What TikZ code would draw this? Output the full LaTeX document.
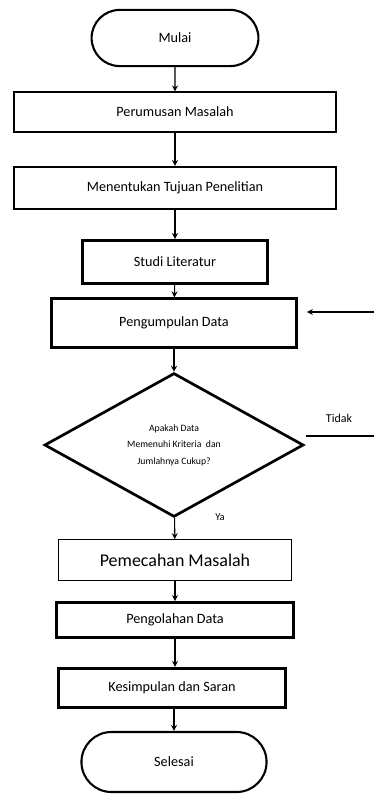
\documentclass[tikz,border=0pt]{standalone}
\usepackage{fontspec}
\setmainfont{Carlito}
\usetikzlibrary{arrows.meta, positioning, shapes.geometric, shapes.misc}

\begin{document}
\begin{tikzpicture}[x=0.0235cm, y=-0.0235cm,
    every node/.style={font=\fontsize{9.5}{11}\selectfont},
    terminal/.style={draw, rounded rectangle, line width=1.4pt, inner sep=0pt},
    stepbox/.style={draw, rectangle, line width=1.3pt, inner sep=0pt},
    heavybox/.style={stepbox, line width=2pt},
    thinbox/.style={stepbox, line width=0.6pt},
    decision/.style={draw, diamond, line width=1.8pt, inner sep=0pt, align=center},
    flow/.style={-{Stealth[length=4pt, width=4pt]}, line width=0.7pt}]
  \useasboundingbox (0,0) rectangle (374,794);

  \node[terminal, minimum width=3.92cm, minimum height=1.32cm] (start) at (175,38) {Mulai};
  \node[stepbox, minimum width=7.57cm, minimum height=0.92cm] (problem) at (175,112) {Perumusan Masalah};
  \node[stepbox, minimum width=7.57cm, minimum height=0.99cm] (goal) at (175,188) {Menentukan Tujuan Penelitian};
  \node[heavybox, minimum width=4.35cm, minimum height=1.01cm] (study) at (175,262) {Studi Literatur};
  \node[heavybox, minimum width=5.78cm, minimum height=1.13cm] (collect) at (174,323) {Pengumpulan Data};
  \node[decision, minimum width=6.09cm, minimum height=3.38cm,
        font=\fontsize{6.5}{11}\selectfont] (check) at (174,445)
        {Apakah Data\\Memenuhi Kriteria \ dan\\Jumlahnya Cukup?};
  \node[thinbox, minimum width=5.48cm, minimum height=0.96cm, font=\fontsize{12}{14}\selectfont] (solve) at (175,560) {Pemecahan Masalah};
  \node[heavybox, minimum width=5.57cm, minimum height=0.82cm] (process) at (175,620) {Pengolahan Data};
  \node[heavybox, minimum width=5.33cm, minimum height=0.92cm] (conclude) at (172,688) {Kesimpulan dan Saran};
  \node[terminal, minimum width=4.35cm, minimum height=1.41cm] (finish) at (174,762) {Selesai};

  % jalur utama
  \draw[flow] (start) -- (problem);
  \draw[flow] (problem) -- (goal);
  \draw[flow] (goal) -- (study);
  \draw[flow] (study) -- (collect);
  \draw[flow] (collect) -- (check);
  \draw[flow] (check) -- (solve);
  \draw[flow] (solve) -- (process);
  \draw[flow] (process.south) -- (process.south |- conclude.north);
  \draw[flow] (finish.north |- conclude.south) -- (finish.north);

  % label keputusan
  \node[font=\fontsize{7}{8}\selectfont] (yes) at (220,517) {Ya};
  \node[font=\fontsize{8}{9}\selectfont] (no) at (339,418) {Tidak};

  % umpan balik (terpotong di tepi kanan)
  \coordinate (noend) at (374,436);
  \coordinate (backin) at (374,312);
  \draw[line width=0.7pt] (check.east |- noend) ++(1,0) -- (noend);
  \draw[flow, shorten >=8\pgflinewidth] (backin) -- (collect.east |- backin);
\end{tikzpicture}
\end{document}
